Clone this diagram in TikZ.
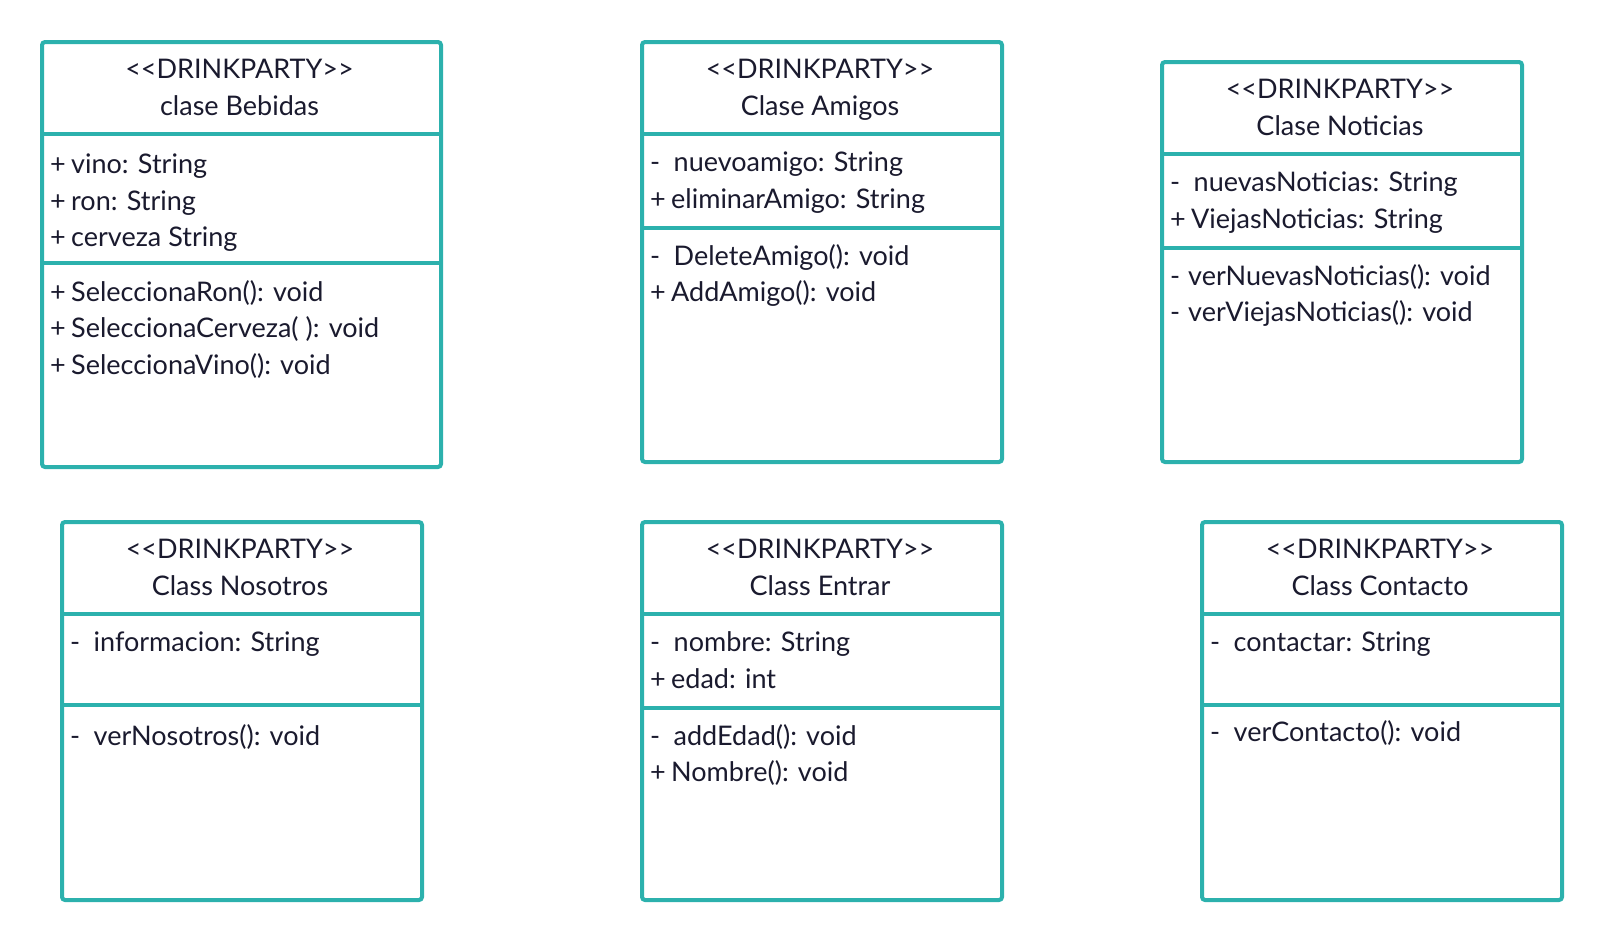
\documentclass[tikz,border=0pt]{standalone}
\usepackage{fontspec}
\setmainfont{Lato}
\definecolor{umlteal}{HTML}{2CB1AD}
\definecolor{umltext}{HTML}{1A1A2E}
\newcommand\umlplus{\makebox[21pt][l]{+}}
\newcommand\umlminus{\makebox[23.5pt][l]{-}}
\newcommand\umlminusshort{\makebox[18pt][l]{-}}
\newcommand\stereo{<\kern0pt<DRINKPARTY>\kern0pt>}
\tikzset{
  classbox/.style={draw=umlteal, line width=4pt, rounded corners=3pt, fill=white, inner sep=0pt, anchor=north west},
  divider/.style={draw=umlteal, line width=4pt},
  title/.style={anchor=base, inner sep=0pt, text=umltext, font=\fontsize{27}{37}\selectfont},
  member/.style={anchor=base west, inner sep=0pt, text=umltext, font=\fontsize{27}{37}\selectfont},
}
\begin{document}
\begin{tikzpicture}[x=1pt,y=-1pt]
\useasboundingbox (0,0) rectangle (1600,940);

% ---------- Box 1: clase Bebidas ----------
\node[classbox, minimum width=399pt, minimum height=425pt] (b1) at (40,40) {};
\draw[divider] (b1.west |- 0,134) -- (b1.east |- 0,134);
\draw[divider] (b1.west |- 0,263) -- (b1.east |- 0,263);
\node[title] (b1t1) at (239.5,78) {\stereo};
\node[title] (b1t2) at (239.5,115) {clase Bebidas};
\node[member] (b1a1) at (50,173.3) {\umlplus vino: String};
\node[member] (b1a2) at (50,210) {\umlplus ron: String};
\node[member] (b1a3) at (50,246.7) {\umlplus cerveza String};
\node[member] (b1m1) at (50,301) {\umlplus SeleccionaRon(): void};
\node[member] (b1m2) at (50,337.7) {\umlplus SeleccionaCerveza( ): void};
\node[member] (b1m3) at (50,374.4) {\umlplus SeleccionaVino(): void};

% ---------- Box 2: Clase Amigos ----------
\node[classbox, minimum width=360pt, minimum height=420pt] (b2) at (640,40) {};
\draw[divider] (b2.west |- 0,134) -- (b2.east |- 0,134);
\draw[divider] (b2.west |- 0,228) -- (b2.east |- 0,228);
\node[title] (b2t1) at (820,78) {\stereo};
\node[title] (b2t2) at (820,115) {Clase Amigos};
\node[member] (b2a1) at (650,171.7) {\umlminus nuevoamigo: String};
\node[member] (b2a2) at (650,208.4) {\umlplus eliminarAmigo: String};
\node[member] (b2m1) at (650,265) {\umlminus DeleteAmigo(): void};
\node[member] (b2m2) at (650,301.7) {\umlplus AddAmigo(): void};

% ---------- Box 3: Clase Noticias ----------
\node[classbox, minimum width=360pt, minimum height=400pt] (b3) at (1160,60) {};
\draw[divider] (b3.west |- 0,154) -- (b3.east |- 0,154);
\draw[divider] (b3.west |- 0,248) -- (b3.east |- 0,248);
\node[title] (b3t1) at (1340,98) {\stereo};
\node[title] (b3t2) at (1340,135) {Clase Noticias};
\node[member] (b3a1) at (1170,191.7) {\umlminus nuevasNoticias: String};
\node[member] (b3a2) at (1170,228.4) {\umlplus ViejasNoticias: String};
\node[member] (b3m1) at (1170,285) {\umlminusshort verNuevasNoticias(): void};
\node[member] (b3m2) at (1170,321.7) {\umlminusshort verViejasNoticias(): void};

% ---------- Box 4: Class Nosotros ----------
\node[classbox, minimum width=360pt, minimum height=378pt] (b4) at (60,520) {};
\draw[divider] (b4.west |- 0,614) -- (b4.east |- 0,614);
\draw[divider] (b4.west |- 0,705) -- (b4.east |- 0,705);
\node[title] (b4t1) at (240,558) {\stereo};
\node[title] (b4t2) at (240,595) {Class Nosotros};
\node[member] (b4a1) at (70,651.7) {\umlminus informacion: String};
\node[member] (b4m1) at (70,745) {\umlminus verNosotros(): void};

% ---------- Box 5: Class Entrar ----------
\node[classbox, minimum width=360pt, minimum height=378pt] (b5) at (640,520) {};
\draw[divider] (b5.west |- 0,614) -- (b5.east |- 0,614);
\draw[divider] (b5.west |- 0,708) -- (b5.east |- 0,708);
\node[title] (b5t1) at (820,558) {\stereo};
\node[title] (b5t2) at (820,595) {Class Entrar};
\node[member] (b5a1) at (650,651.7) {\umlminus nombre: String};
\node[member] (b5a2) at (650,688.4) {\umlplus edad: int};
\node[member] (b5m1) at (650,745) {\umlminus addEdad(): void};
\node[member] (b5m2) at (650,781.7) {\umlplus Nombre(): void};

% ---------- Box 6: Class Contacto ----------
\node[classbox, minimum width=360pt, minimum height=378pt] (b6) at (1200,520) {};
\draw[divider] (b6.west |- 0,614) -- (b6.east |- 0,614);
\draw[divider] (b6.west |- 0,705) -- (b6.east |- 0,705);
\node[title] (b6t1) at (1380,558) {\stereo};
\node[title] (b6t2) at (1380,595) {Class Contacto};
\node[member] (b6a1) at (1210,651.7) {\umlminus contactar: String};
\node[member] (b6m1) at (1210,741.7) {\umlminus verContacto(): void};
\end{tikzpicture}
\end{document}
